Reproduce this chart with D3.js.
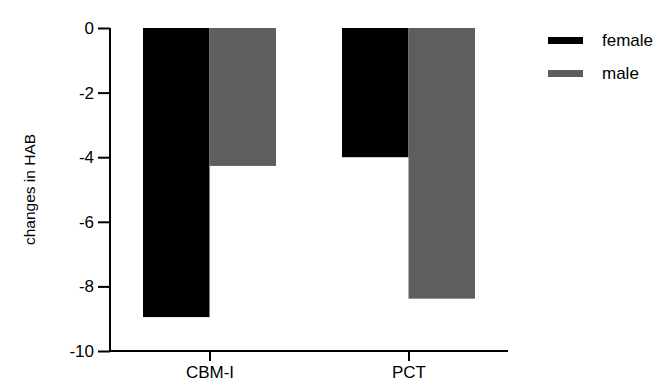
<!DOCTYPE html>
<html>
<head>
<meta charset="utf-8">
<script src="https://cdn.jsdelivr.net/npm/d3@7"></script>
<style>
  body { margin: 0; background: #fff; }
  text { font-family: Arial, "Liberation Sans", sans-serif; fill: #000; }
</style>
</head>
<body>
<div id="chart"></div>
<script>
const width = 661;
const height = 392;

const groups = ["CBM-I", "PCT"];
const seriesNames = ["female", "male"];
const female = [-8.95, -4.0];
const male = [-4.27, -8.38];
const yTicks = [0, -2, -4, -6, -8, -10];
const colors = ["#000000", "#5e5e5e"];

const margin = { top: 28, left: 110, right: 153, bottom: 41 };

const svg = d3.select("#chart").append("svg")
  .attr("width", width)
  .attr("height", height);

const x = d3.scalePoint()
  .domain(groups)
  .range([margin.left, width - margin.right])
  .padding(0.5);

const y = d3.scaleLinear()
  .domain([-10, 0])
  .range([height - margin.bottom, margin.top]);

const sub = d3.scaleBand()
  .domain(seriesNames)
  .range([-66.5, 66.5]);

const rows = groups.map((g, i) => ({ group: g, values: [female[i], male[i]] }));

// bars
svg.append("g").selectAll("g")
  .data(rows)
  .join("g")
  .attr("transform", d => `translate(${x(d.group)},0)`)
  .selectAll("rect")
  .data(d => d.values.map((v, j) => ({ key: seriesNames[j], v, j })))
  .join("rect")
  .attr("x", d => sub(d.key))
  .attr("width", sub.bandwidth())
  .attr("y", y(0))
  .attr("height", d => y(d.v) - y(0))
  .attr("fill", d => colors[d.j]);

// y axis (hyphen minus like the original, not the unicode one)
const yAxis = svg.append("g")
  .attr("transform", `translate(${margin.left},0)`)
  .call(d3.axisLeft(y).tickValues(yTicks).tickSize(12).tickPadding(4).tickFormat(d => String(d)));
yAxis.selectAll("path, line").attr("stroke", "#000").attr("stroke-width", 2);
yAxis.select(".domain").attr("d", `M0,${y(0)}V${y(-10)}`);
yAxis.selectAll("text").style("font-size", "17px").attr("fill", "#000");

// x axis
const xAxis = svg.append("g")
  .attr("transform", `translate(0,${y(-10)})`)
  .call(d3.axisBottom(x).tickSize(10).tickPadding(5));
xAxis.selectAll("path, line").attr("stroke", "#000").attr("stroke-width", 2);
xAxis.select(".domain").attr("d", `M${margin.left},0H${width - margin.right}`);
xAxis.selectAll("text").style("font-size", "17px").attr("fill", "#000");

// y label
svg.append("text")
  .attr("transform", `translate(35,${(y(0) + y(-10)) / 2}) rotate(-90)`)
  .attr("text-anchor", "middle")
  .style("font-size", "15.5px")
  .text("changes in HAB");

// legend
const legend = svg.append("g").selectAll("g")
  .data(seriesNames)
  .join("g")
  .attr("transform", (d, i) => `translate(548,${40 + i * 33})`);
legend.append("rect")
  .attr("y", -3)
  .attr("width", 35)
  .attr("height", 7)
  .attr("fill", (d, i) => colors[i]);
legend.append("text")
  .attr("x", 54)
  .attr("dy", "0.35em")
  .style("font-size", "17px")
  .text(d => d);
</script>
</body>
</html>
